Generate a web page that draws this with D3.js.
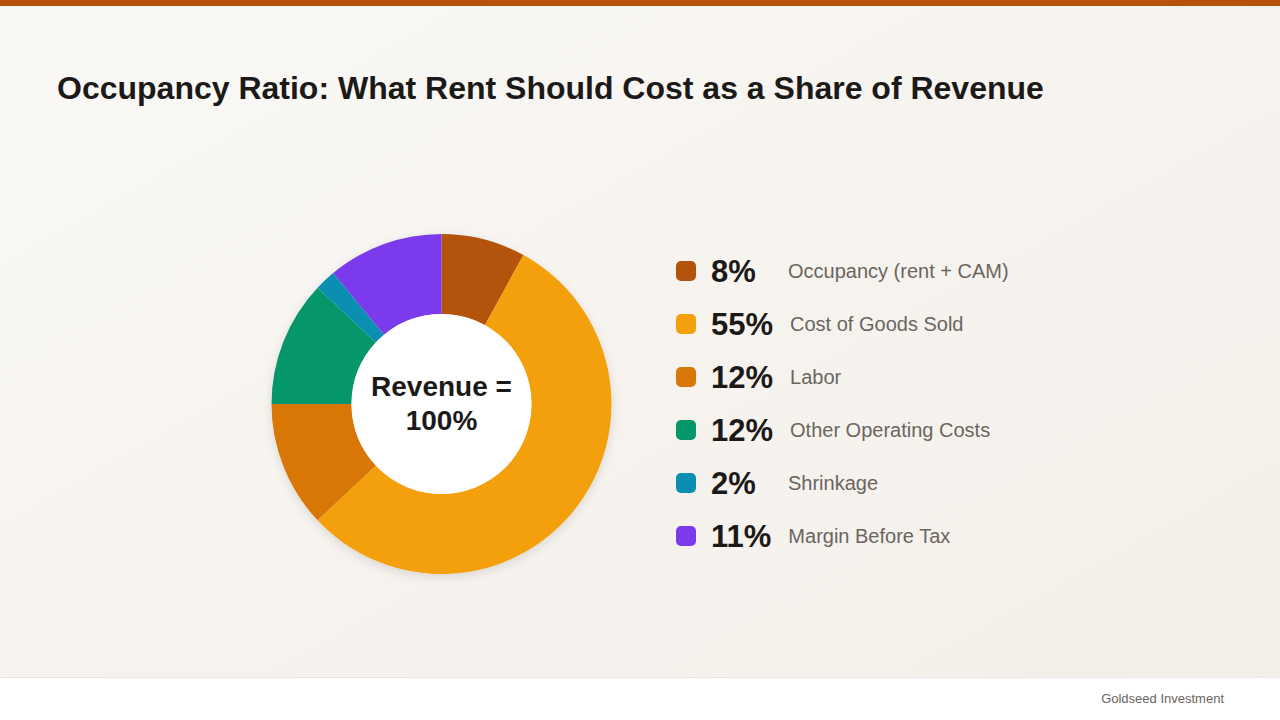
<!DOCTYPE html>
<html>
<head>
<meta charset="utf-8">
<script src="https://d3js.org/d3.v7.min.js"></script>
<style>
  html, body { margin: 0; padding: 0; }
  body { width: 1280px; height: 720px; overflow: hidden; font-family: "Liberation Sans", Arial, Helvetica, sans-serif; }
</style>
</head>
<body>
<div id="chart"></div>
<script>
// chart data
const categories = ['Occupancy (rent + CAM)', 'Cost of Goods Sold', 'Labor', 'Other Operating Costs', 'Shrinkage', 'Margin Before Tax'];
const shares = [8, 55, 12, 12, 2, 11];
const colors = ['#b4530b', '#f49f0c', '#d97706', '#059669', '#0a8fb2', '#7b3aeb'];
const title = 'Occupancy Ratio: What Rent Should Cost as a Share of Revenue';
const centerLines = ['Revenue =', '100%'];
const footer = 'Goldseed Investment';

const W = 1280, H = 720;
const svg = d3.select('#chart').append('svg')
    .attr('width', W).attr('height', H);

const defs = svg.append('defs');
const bg = defs.append('linearGradient').attr('id', 'bg')
    .attr('x1', '0').attr('y1', '0').attr('x2', '1').attr('y2', '1');
bg.append('stop').attr('offset', '0%').attr('stop-color', '#faf9f6');
bg.append('stop').attr('offset', '100%').attr('stop-color', '#f3eee8');

const shadow = defs.append('filter').attr('id', 'shadow')
    .attr('x', '-20%').attr('y', '-20%').attr('width', '140%').attr('height', '140%');
shadow.append('feDropShadow').attr('dx', 0).attr('dy', 3).attr('stdDeviation', 5)
    .attr('flood-color', '#000').attr('flood-opacity', 0.12);

// background + top bar
svg.append('rect').attr('width', W).attr('height', H).attr('fill', 'url(#bg)');
svg.append('rect').attr('width', W).attr('height', 6).attr('fill', '#b5530c');

// footer
svg.append('rect').attr('y', 677).attr('width', W).attr('height', H - 677).attr('fill', '#ffffff');
svg.append('line').attr('x1', 0).attr('x2', W).attr('y1', 677.5).attr('y2', 677.5)
    .attr('stroke', '#ebe6df');
svg.append('text').attr('x', 1224).attr('y', 703)
    .attr('text-anchor', 'end')
    .style('font-size', '13px').style('fill', '#6b6560')
    .text(footer);

// title
svg.append('text').attr('x', 57).attr('y', 99)
    .style('font-size', '32px').style('font-weight', 'bold').style('fill', '#1c1a18')
    .text(title);

// donut
const cx = 441.5, cy = 404, outerR = 170, innerR = 90;
const pie = d3.pie().sort(null).value(d => d);
const arc = d3.arc().innerRadius(innerR).outerRadius(outerR);

const g = svg.append('g').attr('transform', `translate(${cx},${cy})`);
g.append('circle').attr('r', outerR).attr('fill', '#f3eee8').attr('filter', 'url(#shadow)');
g.selectAll('path.slice')
    .data(pie(shares))
    .enter().append('path')
    .attr('class', 'slice')
    .attr('d', arc)
    .attr('fill', (d, i) => colors[i]);
g.append('circle').attr('r', innerR).attr('fill', '#ffffff');

g.selectAll('text.center')
    .data(centerLines)
    .enter().append('text')
    .attr('class', 'center')
    .attr('text-anchor', 'middle')
    .attr('y', (d, i) => -8 + i * 34)
    .style('font-size', '28px').style('font-weight', 'bold').style('fill', '#1c1a18')
    .text(d => d);

// legend
const rowY = d3.scalePoint().domain(d3.range(categories.length)).range([271, 536]);
const legend = svg.append('g');
const rows = legend.selectAll('g.row')
    .data(categories)
    .enter().append('g')
    .attr('class', 'row')
    .attr('transform', (d, i) => `translate(0,${rowY(i)})`);

rows.append('rect')
    .attr('x', 676).attr('y', -10)
    .attr('width', 20).attr('height', 20)
    .attr('rx', 5)
    .attr('fill', (d, i) => colors[i]);

const pct = rows.append('text')
    .attr('x', 711).attr('y', 11)
    .style('font-size', '31px').style('font-weight', 'bold').style('fill', '#1c1a18')
    .text((d, i) => shares[i] + '%');

rows.each(function(d, i) {
    const w = d3.select(this).select('text').node().getComputedTextLength();
    d3.select(this).append('text')
        .attr('x', 711 + Math.max(w, 60) + 17)
        .attr('y', 7)
        .style('font-size', '20px').style('fill', '#6b6560')
        .text(d);
});
</script>
</body>
</html>
